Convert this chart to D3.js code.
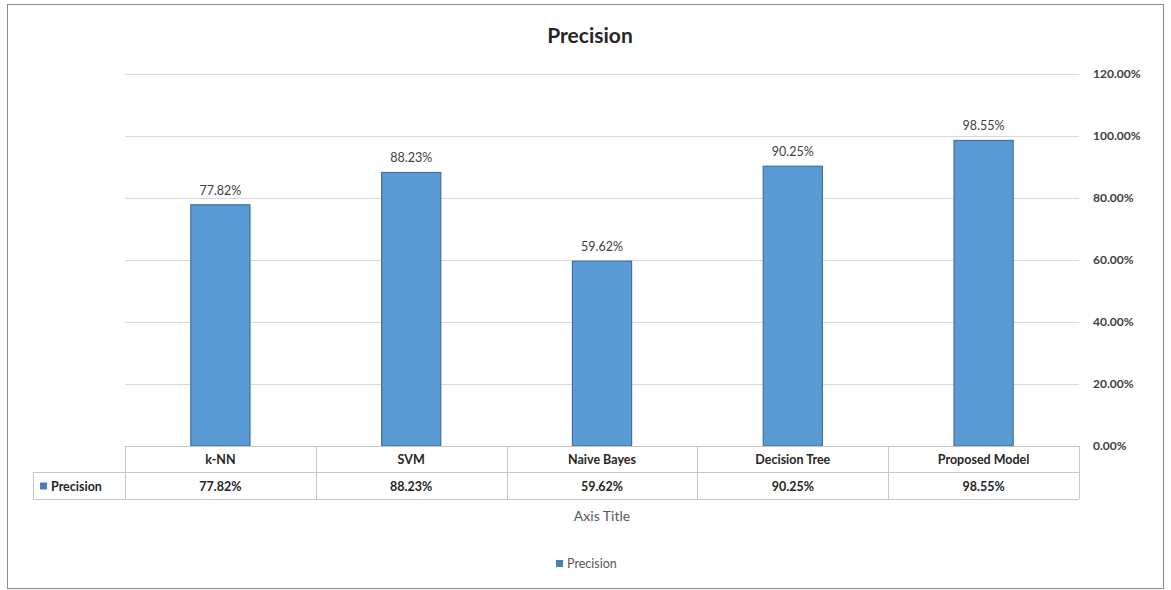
<!DOCTYPE html>
<html>
<head>
<meta charset="utf-8">
<script src="https://cdn.jsdelivr.net/npm/d3@7"></script>
<style>
  body { margin: 0; background: #fff; }
  svg text { font-family: Lato, "Open Sans", sans-serif; }
</style>
</head>
<body>
<div id="chart"></div>
<script>
// chart data
const categories = ['k-NN', 'SVM', 'Naive Bayes', 'Decision Tree', 'Proposed Model'];
const precision = [77.82, 88.23, 59.62, 90.25, 98.55];
const yTicks = [0, 20, 40, 60, 80, 100, 120];
const seriesName = 'Precision';

const width = 1171, height = 590;
const plot = { left: 125, right: 1079, top: 74, bottom: 446 };

const svg = d3.select('#chart').append('svg')
  .attr('width', width).attr('height', height);

// outer frame
svg.append('rect')
  .attr('x', 7.5).attr('y', 4.5)
  .attr('width', 1156).attr('height', 584)
  .attr('fill', '#fff').attr('stroke', '#8c8c8c');

const x = d3.scaleBand().domain(categories).range([plot.left, plot.right]).paddingInner(0).paddingOuter(0);
const y = d3.scaleLinear().domain([0, 120]).range([plot.bottom, plot.top]);

// title
svg.append('text')
  .attr('x', 590).attr('y', 43)
  .attr('text-anchor', 'middle')
  .attr('font-size', 21).attr('font-weight', 'bold').attr('fill', '#262626')
  .text('Precision');

// gridlines
svg.append('g')
  .selectAll('line')
  .data(yTicks.filter(t => t > 0))
  .enter().append('line')
  .attr('x1', plot.left).attr('x2', plot.right)
  .attr('y1', d => y(d) + 0.5).attr('y2', d => y(d) + 0.5)
  .attr('stroke', '#d9d9d9').attr('stroke-width', 1.2);

// right axis labels
const yAxis = d3.axisRight(y).tickValues(yTicks).tickSize(0).tickPadding(14)
  .tickFormat(d => d.toFixed(2) + '%');
const ya = svg.append('g').attr('transform', `translate(${plot.right},0)`).call(yAxis);
ya.select('.domain').remove();
ya.selectAll('text')
  .attr('font-size', 12).attr('font-weight', 'bold').attr('fill', '#404040')
  .style('font-family', 'Lato, "Open Sans", sans-serif');

// bars
const barW = x.bandwidth() * 0.31;
svg.append('g')
  .selectAll('rect')
  .data(precision)
  .enter().append('rect')
  .attr('x', (d, i) => x(categories[i]) + (x.bandwidth() - barW) / 2)
  .attr('y', d => y(d))
  .attr('width', barW)
  .attr('height', d => y(0) - y(d))
  .attr('fill', '#5b9bd5')
  .attr('stroke', '#41719c').attr('stroke-width', 1.2);

// value labels
svg.append('g')
  .selectAll('text')
  .data(precision)
  .enter().append('text')
  .attr('x', (d, i) => x(categories[i]) + x.bandwidth() / 2)
  .attr('y', d => y(d) - 10)
  .attr('text-anchor', 'middle')
  .attr('font-size', 12.5).attr('fill', '#404040')
  .text(d => d.toFixed(2) + '%');

// data table
const rowTop = plot.bottom, rowMid = 472, rowBot = 499, tableLeft = 33;
const table = svg.append('g').attr('stroke', '#c6c6c6').attr('stroke-width', 1);
table.append('line').attr('x1', plot.left).attr('x2', plot.right).attr('y1', rowTop + 0.5).attr('y2', rowTop + 0.5);
table.append('line').attr('x1', tableLeft).attr('x2', plot.right).attr('y1', rowMid + 0.5).attr('y2', rowMid + 0.5);
table.append('line').attr('x1', tableLeft).attr('x2', plot.right).attr('y1', rowBot + 0.5).attr('y2', rowBot + 0.5);
table.append('line').attr('x1', tableLeft + 0.5).attr('x2', tableLeft + 0.5).attr('y1', rowMid).attr('y2', rowBot);
table.selectAll('.vline')
  .data(categories.concat(['end']))
  .enter().append('line')
  .attr('class', 'vline')
  .attr('x1', (d, i) => Math.round(plot.left + i * x.bandwidth()) + 0.5)
  .attr('x2', (d, i) => Math.round(plot.left + i * x.bandwidth()) + 0.5)
  .attr('y1', rowTop).attr('y2', rowBot);

svg.append('g')
  .selectAll('text')
  .data(categories)
  .enter().append('text')
  .attr('x', d => x(d) + x.bandwidth() / 2)
  .attr('y', (rowTop + rowMid) / 2 + 5)
  .attr('text-anchor', 'middle')
  .attr('font-size', 12.5).attr('font-weight', 'bold').attr('fill', '#262626')
  .text(d => d);

svg.append('g')
  .selectAll('text')
  .data(precision)
  .enter().append('text')
  .attr('x', (d, i) => x(categories[i]) + x.bandwidth() / 2)
  .attr('y', (rowMid + rowBot) / 2 + 5)
  .attr('text-anchor', 'middle')
  .attr('font-size', 12.5).attr('font-weight', 'bold').attr('fill', '#262626')
  .text(d => d.toFixed(2) + '%');

// series key in table
svg.append('rect')
  .attr('x', 40).attr('y', (rowMid + rowBot) / 2 - 3)
  .attr('width', 7).attr('height', 7).attr('fill', '#4a7fb5');
svg.append('text')
  .attr('x', 51).attr('y', (rowMid + rowBot) / 2 + 5)
  .attr('font-size', 12.5).attr('font-weight', 'bold').attr('fill', '#262626')
  .text(seriesName);

// axis title
svg.append('text')
  .attr('x', (plot.left + plot.right) / 2).attr('y', 521)
  .attr('text-anchor', 'middle')
  .attr('font-size', 14).attr('fill', '#595959')
  .text('Axis Title');

// legend
svg.append('rect')
  .attr('x', 556).attr('y', 560)
  .attr('width', 7).attr('height', 7).attr('fill', '#4a7fb5');
svg.append('text')
  .attr('x', 567).attr('y', 568)
  .attr('font-size', 12.5).attr('fill', '#595959')
  .text(seriesName);
</script>
</body>
</html>
